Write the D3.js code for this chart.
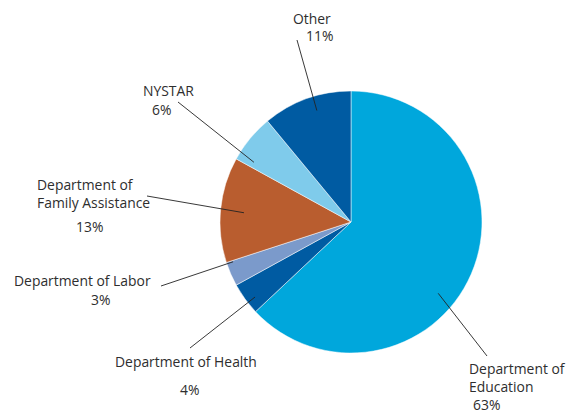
<!DOCTYPE html>
<html>
<head>
<meta charset="utf-8">
<script src="https://cdn.jsdelivr.net/npm/d3@7"></script>
<style>
  body { margin: 0; background: #fff; }
  text { font-family: "Open Sans", sans-serif; font-size: 13.9px; fill: #2e2e2e; }
</style>
</head>
<body>
<div id="chart"></div>
<script>
// slices, clockwise from 12 o'clock
var names = ["Department of Education", "Department of Health", "Department of Labor",
  "Department of Family Assistance", "NYSTAR", "Other"];
var shares = [63, 4, 3, 13, 6, 11];
var colors = ["#00a7dc", "#005ba2", "#7b9acb", "#b95d2f", "#7fcbeb", "#005ba2"];

// label layout (text lines, positions, leader line)
var labelLines = [
  ["Department of", "Education"],
  ["Department of Health"],
  ["Department of Labor"],
  ["Department of", "Family Assistance"],
  ["NYSTAR"],
  ["Other"]
];
var labelPos = [
  {x: 469, y: [374, 392], px: 473, py: 410, lx: 487, ly: 356, t: 0.57, r: 0.86},
  {x: 115, y: [367], px: 180, py: 395, lx: 190, ly: 348, t: 0.36, r: 0.93},
  {x: 14, y: [286], px: 91, py: 305, lx: 161, ly: 286, t: 0.94, r: 0.95},
  {x: 37, y: [190, 208], px: 76, py: 232, lx: 147, ly: 196, t: 0.49, r: 0.82},
  {x: 143, y: [96], px: 152, py: 115, lx: 178, ly: 102, t: 0.13, r: 0.87},
  {x: 293, y: [24], px: 306, py: 41, lx: 297, ly: 40, t: 0.57, r: 0.89}
];

var width = 581, height = 413;
var cx = 351, cy = 222, radius = 131;

var svg = d3.select("#chart")
  .append("svg")
  .attr("width", width)
  .attr("height", height);

var g = svg.append("g")
  .attr("transform", "translate(" + cx + "," + cy + ")");

var pie = d3.pie().sort(null).value(function(d) { return d; });
var arcs = pie(shares);

var arc = d3.arc().innerRadius(0).outerRadius(radius);

g.selectAll("path")
  .data(arcs)
  .enter()
  .append("path")
  .attr("d", arc)
  .attr("fill", function(d, i) { return colors[i]; })
  .attr("stroke", "#fff")
  .attr("stroke-width", 0.5);

// leader lines
g.selectAll("line.leader")
  .data(arcs)
  .enter()
  .append("line")
  .attr("class", "leader")
  .attr("x1", function(d, i) { return labelPos[i].lx - cx; })
  .attr("y1", function(d, i) { return labelPos[i].ly - cy; })
  .attr("x2", function(d, i) {
    var p = labelPos[i];
    var a = d.startAngle + (d.endAngle - d.startAngle) * p.t;
    return Math.sin(a) * radius * p.r;
  })
  .attr("y2", function(d, i) {
    var p = labelPos[i];
    var a = d.startAngle + (d.endAngle - d.startAngle) * p.t;
    return -Math.cos(a) * radius * p.r;
  })
  .attr("stroke", "#222")
  .attr("stroke-width", 0.9);

// labels
names.forEach(function(name, i) {
  var p = labelPos[i];
  labelLines[i].forEach(function(line, j) {
    svg.append("text")
      .attr("x", p.x)
      .attr("y", p.y[j])
      .text(line);
  });
  svg.append("text")
    .attr("x", p.px)
    .attr("y", p.py)
    .text(shares[i] + "%");
});
</script>
</body>
</html>
